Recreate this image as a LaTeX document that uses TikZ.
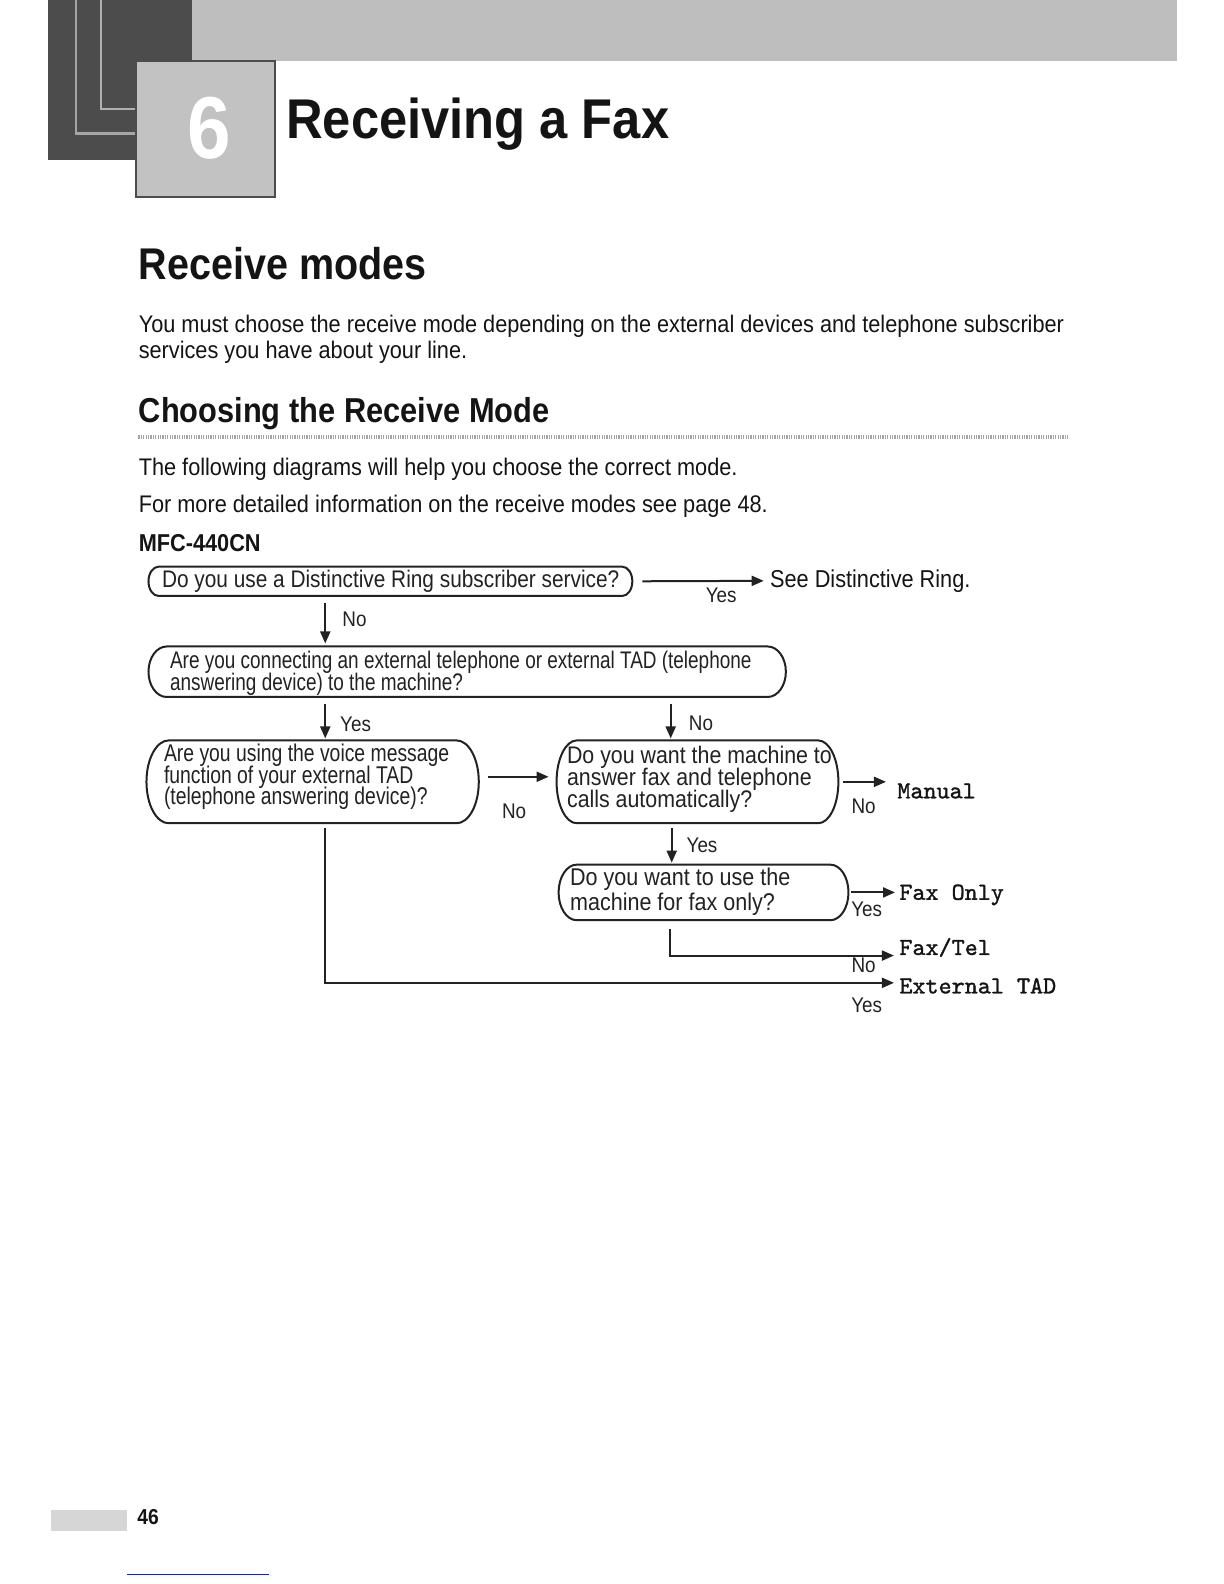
\documentclass[tikz,border=0pt]{standalone}
\usepackage{fontspec}
\setmainfont{Liberation Sans}[FakeStretch=0.89]
\newfontfamily\fsA{Liberation Sans}[FakeStretch=0.89]
\newfontfamily\fsP{Liberation Sans}[FakeStretch=0.905]
\newfontfamily\fsN{Liberation Sans}[FakeStretch=0.79]
\newfontfamily\fsM{Liberation Sans}[FakeStretch=0.80]
\newfontfamily\fsB{Liberation Sans}[FakeStretch=0.868]
\newfontfamily\monof{lmmono10-regular.otf}[FakeBold=1.2,FakeStretch=1.02]
\usetikzlibrary{arrows.meta,calc,fit}
\definecolor{ink}{HTML}{141414}
\definecolor{boxink}{HTML}{222222}
\definecolor{darkblk}{HTML}{4C4C4C}
\definecolor{bandgray}{HTML}{BEBEBE}
\definecolor{sqgray}{HTML}{C2C2C2}
\definecolor{navy}{HTML}{1C2A8C}
\newcommand\tightlines{\lineskiplimit=-20pt\lineskip=0pt}
\newcommand\drawpill[2]{%
 \draw[boxline] ($(#1.north west)+(#2,0)$) -- ($(#1.north east)+(-#2,0)$)
  .. controls ($(#1.north east)+(-0.4477*#2,0)$) and ($(#1.east)!0.5523!(#1.north east)$) .. (#1.east)
  .. controls ($(#1.east)!0.5523!(#1.south east)$) and ($(#1.south east)+(-0.4477*#2,0)$) .. ($(#1.south east)+(-#2,0)$)
  -- ($(#1.south west)+(#2,0)$)
  .. controls ($(#1.south west)+(0.4477*#2,0)$) and ($(#1.west)!0.5523!(#1.south west)$) .. (#1.west)
  .. controls ($(#1.west)!0.5523!(#1.north west)$) and ($(#1.north west)+(0.4477*#2,0)$) .. cycle;}
\tikzset{
 qbox/.style={draw=none, inner sep=0pt, outer sep=0pt, rectangle},
 qtxt/.style={anchor=west, align=left, inner sep=0pt, text=boxink},
 lbl/.style={inner sep=0pt, text=boxink, font=\fsA\fontsize{10.6}{12}\selectfont},
 res/.style={anchor=west, inner sep=0pt, text=ink, font=\monof\fontsize{12.2}{14}\selectfont},
 arr/.style={draw=boxink, line width=1pt, -{Triangle[length=6pt,width=5pt]}},
 boxline/.style={draw=boxink, line width=1pt},
 body/.style={anchor=base west, inner sep=0pt, text=ink, font=\fsP\fontsize{12}{14}\selectfont},
}
\begin{document}
\begin{tikzpicture}[x=0.50505pt,y=-0.50505pt]
\path[use as bounding box, fill=white] (0pt,0pt) rectangle (612pt,-792pt);
% header
\fill[darkblk] (48,0) rectangle (190,158);
\draw[gray!70, line width=1.2pt] (75,0) -- (75,132) -- (135,132);
\draw[gray!62, line width=0.8pt] (100,0) -- (100,108) -- (135,108);
\fill[bandgray] (190,0) rectangle (1165,60);
\filldraw[fill=sqgray, draw=darkblk, line width=1pt] (135,60) rectangle (272,195);
\node[inner sep=0pt, text=white, font=\fsA\bfseries\fontsize{44}{44}\selectfont] (six) at (207,127) {6};
\node[anchor=base west, inner sep=0pt, text=ink, font=\fsP\bfseries\fontsize{28}{30}\selectfont] (title) at (283,137) {Receiving a Fax};
\node[anchor=base west, inner sep=0pt, text=ink, font=\fsA\bfseries\fontsize{22.2}{26}\selectfont] (h1) at (137,277) {Receive modes};
\node[body] (p1) at (137,329) {You must choose the receive mode depending on the external devices and telephone subscriber};
\node[body] (p2) at (137,355) {services you have about your line.};
\node[anchor=base west, inner sep=0pt, text=ink, font=\fsA\bfseries\fontsize{17.3}{20}\selectfont] (h2) at (137,418) {Choosing the Receive Mode};
\draw[gray!70, line width=2pt, dash pattern=on 0.6pt off 0.6pt] (137,433) -- (1057,433);
\node[body] (p3) at (137,471) {The following diagrams will help you choose the correct mode.};
\node[body] (p4) at (137,507) {For more detailed information on the receive modes see page 48.};
\node[anchor=base west, inner sep=0pt, text=ink, font=\fsA\bfseries\fontsize{12.2}{14}\selectfont] (mfc) at (137,546) {MFC-440CN};
% boxes
\node[qbox, fit={(147,561) (626,590)}] (q1) {};
\node[qbox, fit={(147,640) (778,690)}] (q2) {};
\node[qbox, fit={(145,733) (474,815)}] (q3) {};
\node[qbox, fit={(551,733) (830,815)}] (q4) {};
\node[qbox, fit={(553,856) (840,911)}] (q5) {};
\drawpill{q1}{10}
\drawpill{q2}{18}
\drawpill{q3}{22}
\drawpill{q4}{20}
\drawpill{q5}{18}
\node[qtxt, font=\fsB\fontsize{12}{12}\selectfont] (t1) at (160,575.5) {Do you use a Distinctive Ring subscriber service?};
\node[qtxt, font=\fsN\fontsize{12}{10.6}\selectfont\tightlines] (t2) at (168,666.5) {Are you connecting an external telephone or external TAD (telephone\\answering device) to the machine?};
\node[qtxt, font=\fsM\fontsize{12.1}{10.8}\selectfont\tightlines] (t3) at (162,769) {Are you using the voice message\\function of your external TAD\\(telephone answering device)?};
\node[qtxt, font=\fsA\fontsize{12}{11}\selectfont\tightlines] (t4) at (561,771) {Do you want the machine to\\answer fax and telephone\\calls automatically?};
\node[qtxt, font=\fsA\fontsize{12.1}{12.5}\selectfont\tightlines] (t5) at (564,882.5) {Do you want to use the\\machine for fax only?};
% results
\node[anchor=west, inner sep=0pt, text=ink, font=\fsA\fontsize{12.2}{14}\selectfont] (r0) at (762,575) {See Distinctive Ring.};
\node[res] (r1) at (888,783) {Manual};
\node[res] (r2) at (890,886) {Fax Only};
\node[res] (r3) at (890,938) {Fax/Tel};
\node[res] (r4) at (890,976) {External TAD};
\coordinate (c322) at (322,0);
\coordinate (c664) at (664,0);
\coordinate (c665) at (665,0);
\coordinate (c663) at (663,0);
\coordinate (e3) at (885,946);
\coordinate (e4) at (885,973);
% connectors
\draw[arr, shorten <=5pt, shorten >=3pt] (q1.east) -- (r0.west);
\draw[arr, shorten <=3.5pt, shorten >=1.5pt] (q1.south -| c322) -- (q2.north -| c322);
\draw[arr, shorten <=3.5pt, shorten >=1pt] (q2.south -| c322) -- (q3.north -| c322);
\draw[arr, shorten <=3.5pt, shorten >=1pt] (q2.south -| c664) -- (q4.north -| c664);
\draw[arr, shorten <=4.5pt, shorten >=4pt] ($(q3.east)+(0,-5)$) -- ($(q4.west)+(0,-5)$);
\draw[arr, shorten <=2.5pt, shorten >=5.5pt] (q4.east) -- (q4.east -| r1.west);
\draw[arr, shorten <=2.5pt, shorten >=1pt] (q4.south -| c665) -- (q5.north -| c665);
\draw[arr, shorten <=1.5pt, shorten >=2pt] (q5.east) -- (q5.east -| r2.west);
\draw[arr, shorten <=4.5pt] (q5.south -| c663) |- (e3);
\draw[arr, shorten <=2.5pt] (q3.south -| c322) |- (e4);
% labels
\node[lbl] (lyes1) at (714,589) {Yes};
\node[lbl] (lno1) at (351,613) {No};
\node[lbl] (lyes2) at (352,717) {Yes};
\node[lbl] (lno2) at (694,716) {No};
\node[lbl] (lno3) at (509,803) {No};
\node[lbl] (lno4) at (855,798) {No};
\node[lbl] (lyes3) at (695,837) {Yes};
\node[lbl] (lyes4) at (858,900) {Yes};
\node[lbl] (lno5) at (855,956) {No};
\node[lbl] (lyes5) at (858,995) {Yes};
% footer
\fill[gray!32] (50.5,1495) rectangle (125.7,1516);
\node[anchor=base west, inner sep=0pt, text=ink, font=\fsA\bfseries\fontsize{10.8}{12}\selectfont] (pg) at (135.6,1509) {46};
\draw[navy, line width=0.6pt] (125.7,1559) -- (266.3,1559);
\end{tikzpicture}
\end{document}
